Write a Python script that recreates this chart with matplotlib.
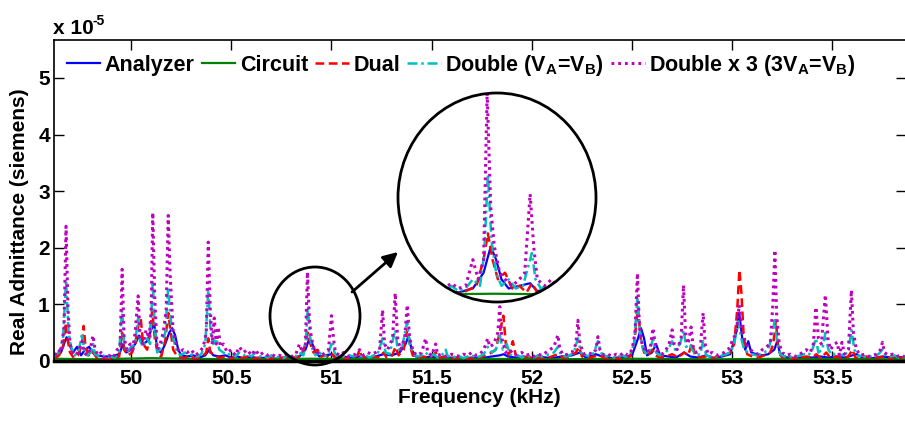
import numpy as np
import matplotlib
matplotlib.use("Agg")
import matplotlib.pyplot as plt
from matplotlib.patches import Ellipse

plt.rcParams["font.family"] = ["Liberation Sans", "DejaVu Sans"]
plt.rcParams["font.weight"] = "bold"
plt.rcParams["mathtext.fontset"] = "custom"
plt.rcParams["mathtext.rm"] = "Liberation Sans:bold"
plt.rcParams["mathtext.bf"] = "Liberation Sans:bold"
plt.rcParams["mathtext.it"] = "Liberation Sans:bold"

# (frequency kHz, real admittance x1e-5 S)
ANALYZER = [
    (49.62, 0.10), (49.65, 0.15), (49.665, 0.30), (49.678, 0.42), (49.69, 0.30), (49.71, 0.15),
    (49.73, 0.25), (49.75, 0.10), (49.77, 0.20), (49.79, 0.25), (49.81, 0.15), (49.83, 0.10),
    (49.86, 0.08), (49.90, 0.08), (49.94, 0.12), (49.96, 0.30), (49.975, 0.15), (50.00, 0.20),
    (50.02, 0.30), (50.04, 0.45), (50.06, 0.30), (50.08, 0.35), (50.10, 0.55), (50.115, 0.67),
    (50.13, 0.20), (50.15, 0.15), (50.17, 0.30), (50.19, 0.50), (50.205, 0.58), (50.22, 0.45),
    (50.235, 0.20), (50.25, 0.10), (50.28, 0.08), (50.31, 0.10), (50.34, 0.06), (50.37, 0.10),
    (50.39, 0.20), (50.41, 0.10), (50.44, 0.08), (50.47, 0.10), (50.50, 0.06), (50.53, 0.08),
    (50.56, 0.05), (50.60, 0.07), (50.64, 0.05), (50.68, 0.06), (50.72, 0.04), (50.76, 0.06),
    (50.80, 0.05), (50.84, 0.08), (50.87, 0.20), (50.89, 0.40), (50.905, 0.30), (50.92, 0.15),
    (50.94, 0.08), (50.97, 0.10), (51.00, 0.12), (51.02, 0.06), (51.06, 0.08), (51.10, 0.05),
    (51.14, 0.08), (51.18, 0.06), (51.22, 0.08), (51.26, 0.12), (51.30, 0.10), (51.34, 0.15),
    (51.37, 0.30), (51.385, 0.45), (51.40, 0.20), (51.42, 0.08), (51.46, 0.06), (51.50, 0.08),
    (51.55, 0.05), (51.60, 0.06), (51.65, 0.05), (51.70, 0.06), (51.75, 0.05), (51.80, 0.08),
    (51.84, 0.10), (51.86, 0.12), (51.88, 0.08), (51.92, 0.06), (51.96, 0.08), (52.00, 0.05),
    (52.05, 0.07), (52.10, 0.05), (52.15, 0.08), (52.20, 0.10), (52.24, 0.15), (52.27, 0.06),
    (52.32, 0.12), (52.35, 0.08), (52.40, 0.05), (52.45, 0.07), (52.50, 0.10), (52.53, 0.40),
    (52.545, 0.58), (52.56, 0.40), (52.575, 0.10), (52.60, 0.15), (52.62, 0.30), (52.64, 0.10),
    (52.68, 0.08), (52.72, 0.06), (52.76, 0.15), (52.79, 0.08), (52.83, 0.06), (52.87, 0.10),
    (52.91, 0.05), (52.95, 0.08), (52.99, 0.12), (53.02, 0.50), (53.035, 0.85), (53.05, 0.40),
    (53.065, 0.20), (53.08, 0.35), (53.095, 0.15), (53.12, 0.12), (53.15, 0.10), (53.18, 0.12),
    (53.21, 0.20), (53.225, 0.35), (53.24, 0.10), (53.28, 0.06), (53.32, 0.05), (53.36, 0.07),
    (53.40, 0.06), (53.44, 0.08), (53.48, 0.06), (53.52, 0.08), (53.56, 0.06), (53.60, 0.10),
    (53.62, 0.12), (53.65, 0.06), (53.70, 0.05), (53.75, 0.08), (53.80, 0.06), (53.86, 0.07),
]

CIRCUIT = [
    (49.62, 0.04), (49.80, 0.03), (50.10, 0.05), (50.50, 0.03), (50.90, 0.04), (51.30, 0.03),
    (51.70, 0.04), (52.10, 0.03), (52.50, 0.04), (52.90, 0.03), (53.30, 0.04), (53.86, 0.03),
]

DUAL = [
    (49.62, 0.05), (49.64, 0.10), (49.66, 0.25), (49.672, 0.67), (49.682, 0.40), (49.695, 0.15),
    (49.715, 0.05), (49.735, 0.10), (49.755, 0.30), (49.763, 0.62), (49.772, 0.25), (49.79, 0.08),
    (49.81, 0.15), (49.83, 0.05), (49.86, 0.03), (49.90, 0.04), (49.94, 0.08), (49.955, 0.50),
    (49.965, 0.20), (49.985, 0.10), (50.005, 0.15), (50.02, 0.30), (50.035, 0.60), (50.048, 0.75),
    (50.06, 0.30), (50.08, 0.20), (50.095, 0.50), (50.105, 0.90), (50.118, 0.40), (50.135, 0.10),
    (50.15, 0.08), (50.17, 0.35), (50.185, 0.85), (50.198, 0.50), (50.21, 0.20), (50.23, 0.08),
    (50.26, 0.05), (50.29, 0.08), (50.32, 0.04), (50.35, 0.06), (50.375, 0.15), (50.385, 0.40),
    (50.395, 0.15), (50.42, 0.10), (50.44, 0.05), (50.47, 0.08), (50.50, 0.04), (50.53, 0.10),
    (50.55, 0.05), (50.58, 0.08), (50.61, 0.04), (50.64, 0.06), (50.67, 0.03), (50.70, 0.05),
    (50.73, 0.04), (50.76, 0.06), (50.79, 0.04), (50.82, 0.06), (50.85, 0.10), (50.87, 0.30),
    (50.882, 0.50), (50.895, 0.30), (50.91, 0.15), (50.93, 0.20), (50.95, 0.08), (50.97, 0.10),
    (50.99, 0.05), (51.005, 0.12), (51.02, 0.05), (51.05, 0.08), (51.08, 0.04), (51.11, 0.06),
    (51.13, 0.10), (51.14, 0.20), (51.15, 0.08), (51.18, 0.05), (51.21, 0.08), (51.24, 0.06),
    (51.26, 0.15), (51.275, 0.06), (51.30, 0.08), (51.32, 0.25), (51.335, 0.10), (51.36, 0.20),
    (51.378, 0.55), (51.39, 0.30), (51.405, 0.10), (51.43, 0.05), (51.46, 0.08), (51.49, 0.05),
    (51.52, 0.15), (51.535, 0.05), (51.56, 0.08), (51.59, 0.04), (51.62, 0.06), (51.65, 0.04),
    (51.68, 0.05), (51.71, 0.04), (51.74, 0.06), (51.77, 0.10), (51.80, 0.15), (51.82, 0.20),
    (51.845, 0.60), (51.858, 0.80), (51.87, 0.30), (51.885, 0.10), (51.905, 0.35), (51.92, 0.10),
    (51.95, 0.05), (51.98, 0.08), (52.01, 0.04), (52.04, 0.06), (52.07, 0.04), (52.10, 0.08),
    (52.13, 0.12), (52.16, 0.05), (52.19, 0.08), (52.22, 0.15), (52.235, 0.25), (52.25, 0.08),
    (52.28, 0.05), (52.31, 0.08), (52.34, 0.10), (52.37, 0.04), (52.40, 0.06), (52.43, 0.04),
    (52.46, 0.06), (52.49, 0.08), (52.51, 0.30), (52.53, 0.95), (52.543, 0.40), (52.56, 0.15),
    (52.58, 0.10), (52.60, 0.20), (52.615, 0.10), (52.64, 0.06), (52.67, 0.08), (52.70, 0.12),
    (52.73, 0.06), (52.76, 0.15), (52.78, 0.10), (52.80, 0.32), (52.815, 0.10), (52.84, 0.06),
    (52.87, 0.08), (52.90, 0.05), (52.93, 0.08), (52.96, 0.10), (52.99, 0.15), (53.01, 0.30),
    (53.025, 0.90), (53.036, 1.61), (53.046, 1.20), (53.058, 0.40), (53.075, 0.12), (53.10, 0.08),
    (53.13, 0.06), (53.16, 0.10), (53.19, 0.15), (53.205, 0.30), (53.218, 0.72), (53.23, 0.20),
    (53.25, 0.06), (53.28, 0.08), (53.31, 0.04), (53.34, 0.06), (53.37, 0.08), (53.40, 0.06),
    (53.42, 0.12), (53.44, 0.05), (53.47, 0.15), (53.49, 0.05), (53.52, 0.08), (53.55, 0.04),
    (53.58, 0.08), (53.60, 0.20), (53.615, 0.06), (53.64, 0.05), (53.67, 0.08), (53.70, 0.04),
    (53.73, 0.06), (53.76, 0.08), (53.79, 0.04), (53.82, 0.10), (53.84, 0.05), (53.86, 0.08),
]

DOUBLE = [
    (49.62, 0.10), (49.64, 0.15), (49.66, 0.40), (49.675, 1.43), (49.688, 0.50), (49.70, 0.25),
    (49.72, 0.10), (49.74, 0.20), (49.755, 0.49), (49.765, 0.20), (49.78, 0.10), (49.80, 0.15),
    (49.81, 0.30), (49.82, 0.12), (49.84, 0.08), (49.86, 0.10), (49.88, 0.05), (49.90, 0.08),
    (49.92, 0.06), (49.94, 0.15), (49.955, 0.90), (49.965, 0.30), (49.98, 0.15), (50.00, 0.25),
    (50.02, 0.30), (50.035, 0.80), (50.045, 0.35), (50.06, 0.25), (50.08, 0.40), (50.095, 0.30),
    (50.108, 1.43), (50.118, 0.60), (50.13, 0.15), (50.15, 0.25), (50.17, 0.50), (50.185, 1.31),
    (50.195, 0.80), (50.21, 0.40), (50.225, 0.20), (50.245, 0.10), (50.27, 0.15), (50.29, 0.10),
    (50.31, 0.12), (50.33, 0.08), (50.35, 0.12), (50.37, 0.30), (50.385, 1.25), (50.397, 0.50),
    (50.41, 0.30), (50.425, 0.40), (50.44, 0.20), (50.46, 0.15), (50.48, 0.10), (50.50, 0.15),
    (50.52, 0.08), (50.54, 0.15), (50.56, 0.10), (50.58, 0.12), (50.60, 0.08), (50.62, 0.15),
    (50.64, 0.08), (50.66, 0.10), (50.68, 0.06), (50.70, 0.10), (50.72, 0.06), (50.74, 0.08),
    (50.76, 0.05), (50.78, 0.10), (50.80, 0.06), (50.82, 0.08), (50.84, 0.15), (50.86, 0.10),
    (50.872, 0.35), (50.882, 0.95), (50.892, 0.45), (50.905, 0.20), (50.92, 0.10), (50.94, 0.15),
    (50.96, 0.08), (50.98, 0.10), (50.995, 0.25), (51.005, 0.35), (51.015, 0.15), (51.03, 0.08),
    (51.05, 0.10), (51.07, 0.06), (51.09, 0.10), (51.11, 0.08), (51.13, 0.12), (51.15, 0.08),
    (51.17, 0.10), (51.19, 0.06), (51.21, 0.10), (51.23, 0.12), (51.255, 0.40), (51.27, 0.15),
    (51.29, 0.12), (51.318, 0.55), (51.33, 0.20), (51.35, 0.20), (51.378, 0.70), (51.39, 0.30),
    (51.41, 0.12), (51.43, 0.08), (51.45, 0.10), (51.47, 0.15), (51.49, 0.08), (51.51, 0.12),
    (51.53, 0.06), (51.55, 0.10), (51.57, 0.20), (51.58, 0.08), (51.60, 0.10), (51.62, 0.06),
    (51.64, 0.08), (51.66, 0.05), (51.68, 0.08), (51.70, 0.10), (51.72, 0.06), (51.74, 0.08),
    (51.76, 0.12), (51.78, 0.25), (51.80, 0.15), (51.82, 0.20), (51.84, 0.45), (51.855, 0.20),
    (51.875, 0.30), (51.89, 0.12), (51.91, 0.08), (51.93, 0.10), (51.95, 0.06), (51.97, 0.10),
    (51.99, 0.08), (52.01, 0.06), (52.03, 0.10), (52.05, 0.08), (52.07, 0.10), (52.09, 0.12),
    (52.11, 0.15), (52.13, 0.25), (52.145, 0.10), (52.17, 0.08), (52.19, 0.10), (52.21, 0.15),
    (52.23, 0.40), (52.245, 0.15), (52.27, 0.10), (52.29, 0.08), (52.31, 0.15), (52.33, 0.35),
    (52.345, 0.15), (52.37, 0.08), (52.39, 0.10), (52.41, 0.06), (52.43, 0.08), (52.45, 0.10),
    (52.47, 0.08), (52.49, 0.10), (52.51, 0.30), (52.527, 1.13), (52.54, 0.50), (52.555, 0.20),
    (52.575, 0.12), (52.59, 0.20), (52.605, 0.40), (52.62, 0.15), (52.64, 0.10), (52.66, 0.12),
    (52.68, 0.20), (52.70, 0.35), (52.715, 0.20), (52.74, 0.30), (52.757, 0.55), (52.77, 0.25),
    (52.79, 0.30), (52.80, 0.20), (52.82, 0.10), (52.84, 0.12), (52.855, 0.35), (52.87, 0.10),
    (52.89, 0.08), (52.91, 0.10), (52.93, 0.06), (52.95, 0.10), (52.97, 0.12), (52.99, 0.15),
    (53.01, 0.30), (53.03, 0.70), (53.045, 0.40), (53.06, 0.20), (53.08, 0.15), (53.10, 0.12),
    (53.12, 0.10), (53.14, 0.12), (53.16, 0.15), (53.18, 0.20), (53.20, 0.45), (53.212, 0.72),
    (53.225, 0.30), (53.24, 0.12), (53.26, 0.08), (53.28, 0.10), (53.30, 0.06), (53.32, 0.08),
    (53.34, 0.10), (53.36, 0.12), (53.38, 0.10), (53.40, 0.20), (53.418, 0.40), (53.43, 0.15),
    (53.45, 0.20), (53.465, 0.50), (53.48, 0.20), (53.50, 0.10), (53.52, 0.15), (53.54, 0.10),
    (53.56, 0.12), (53.58, 0.15), (53.595, 0.55), (53.61, 0.20), (53.63, 0.08), (53.65, 0.10),
    (53.67, 0.06), (53.69, 0.08), (53.71, 0.10), (53.73, 0.12), (53.75, 0.20), (53.765, 0.10),
    (53.79, 0.08), (53.81, 0.10), (53.83, 0.06), (53.86, 0.08),
]

DOUBLE_X3 = [
    (49.62, 0.10), (49.635, 0.20), (49.65, 0.15), (49.665, 0.60), (49.675, 2.38), (49.685, 0.90),
    (49.695, 0.30), (49.71, 0.15), (49.725, 0.10), (49.74, 0.20), (49.755, 0.35), (49.765, 0.15),
    (49.78, 0.10), (49.795, 0.20), (49.81, 0.45), (49.82, 0.20), (49.835, 0.10), (49.85, 0.15),
    (49.87, 0.05), (49.89, 0.10), (49.91, 0.05), (49.93, 0.20), (49.945, 0.25), (49.955, 1.62),
    (49.965, 0.40), (49.98, 0.20), (49.995, 0.30), (50.005, 0.15), (50.02, 0.50), (50.035, 1.15),
    (50.045, 0.40), (50.06, 0.30), (50.075, 0.55), (50.09, 0.40), (50.10, 0.90), (50.108, 2.62),
    (50.118, 1.10), (50.13, 0.20), (50.145, 0.30), (50.16, 0.50), (50.175, 0.90), (50.185, 2.57),
    (50.195, 1.50), (50.21, 0.50), (50.225, 0.30), (50.24, 0.15), (50.26, 0.20), (50.28, 0.15),
    (50.30, 0.20), (50.32, 0.10), (50.34, 0.15), (50.36, 0.25), (50.375, 0.50), (50.385, 2.10),
    (50.395, 0.90), (50.405, 0.30), (50.415, 0.76), (50.425, 0.30), (50.435, 0.60), (50.445, 0.25),
    (50.46, 0.30), (50.48, 0.15), (50.50, 0.20), (50.52, 0.10), (50.54, 0.25), (50.56, 0.15),
    (50.58, 0.20), (50.60, 0.10), (50.62, 0.20), (50.64, 0.10), (50.66, 0.15), (50.68, 0.10),
    (50.70, 0.12), (50.72, 0.08), (50.74, 0.10), (50.76, 0.08), (50.78, 0.12), (50.80, 0.08),
    (50.82, 0.10), (50.84, 0.30), (50.855, 0.15), (50.87, 0.30), (50.88, 1.57), (50.89, 0.70),
    (50.90, 0.40), (50.915, 0.20), (50.93, 0.15), (50.95, 0.10), (50.97, 0.15), (50.985, 0.20),
    (51.00, 0.80), (51.01, 0.40), (51.02, 0.15), (51.04, 0.10), (51.06, 0.15), (51.08, 0.08),
    (51.10, 0.10), (51.12, 0.12), (51.14, 0.20), (51.16, 0.10), (51.18, 0.15), (51.20, 0.12),
    (51.22, 0.15), (51.24, 0.20), (51.255, 0.90), (51.265, 0.30), (51.28, 0.20), (51.305, 0.40),
    (51.318, 1.20), (51.33, 0.40), (51.345, 0.20), (51.365, 0.40), (51.378, 0.99), (51.39, 0.40),
    (51.41, 0.15), (51.43, 0.10), (51.45, 0.15), (51.47, 0.40), (51.48, 0.15), (51.50, 0.10),
    (51.52, 0.30), (51.53, 0.10), (51.55, 0.12), (51.57, 0.08), (51.60, 0.12), (51.62, 0.10),
    (51.64, 0.08), (51.66, 0.12), (51.68, 0.10), (51.70, 0.15), (51.72, 0.10), (51.74, 0.12),
    (51.76, 0.20), (51.78, 0.40), (51.79, 0.25), (51.81, 0.30), (51.83, 0.50), (51.84, 0.96),
    (51.85, 0.40), (51.87, 0.15), (51.89, 0.20), (51.91, 0.10), (51.93, 0.12), (51.95, 0.15),
    (51.97, 0.10), (51.99, 0.12), (52.01, 0.08), (52.03, 0.12), (52.05, 0.10), (52.07, 0.15),
    (52.09, 0.20), (52.11, 0.25), (52.13, 0.46), (52.14, 0.20), (52.16, 0.10), (52.18, 0.12),
    (52.20, 0.15), (52.22, 0.30), (52.23, 0.72), (52.24, 0.30), (52.26, 0.12), (52.28, 0.15),
    (52.30, 0.12), (52.32, 0.20), (52.33, 0.43), (52.34, 0.20), (52.36, 0.10), (52.38, 0.12),
    (52.40, 0.08), (52.42, 0.12), (52.44, 0.10), (52.46, 0.15), (52.48, 0.10), (52.50, 0.20),
    (52.515, 0.50), (52.527, 1.55), (52.537, 0.60), (52.55, 0.30), (52.57, 0.15), (52.59, 0.20),
    (52.605, 0.58), (52.615, 0.30), (52.63, 0.15), (52.65, 0.12), (52.67, 0.20), (52.685, 0.30),
    (52.70, 0.55), (52.71, 0.30), (52.725, 0.20), (52.745, 0.40), (52.757, 1.34), (52.767, 0.50),
    (52.78, 0.30), (52.795, 0.60), (52.805, 0.25), (52.82, 0.15), (52.84, 0.20), (52.855, 0.85),
    (52.865, 0.30), (52.88, 0.12), (52.90, 0.15), (52.92, 0.10), (52.94, 0.12), (52.96, 0.15),
    (52.98, 0.20), (53.00, 0.35), (53.02, 0.50), (53.035, 0.99), (53.05, 0.50), (53.07, 0.30),
    (53.09, 0.20), (53.11, 0.15), (53.13, 0.12), (53.15, 0.20), (53.17, 0.25), (53.19, 0.30),
    (53.203, 1.00), (53.213, 1.96), (53.222, 0.80), (53.235, 0.30), (53.25, 0.15), (53.27, 0.10),
    (53.29, 0.12), (53.31, 0.08), (53.33, 0.10), (53.35, 0.15), (53.37, 0.20), (53.39, 0.15),
    (53.405, 0.30), (53.418, 0.95), (53.43, 0.40), (53.445, 0.30), (53.465, 1.17), (53.478, 0.40),
    (53.49, 0.20), (53.51, 0.30), (53.525, 0.33), (53.535, 0.10), (53.548, 0.33), (53.56, 0.12),
    (53.58, 0.20), (53.595, 1.25), (53.605, 0.50), (53.62, 0.20), (53.64, 0.10), (53.66, 0.12),
    (53.68, 0.08), (53.70, 0.10), (53.72, 0.12), (53.74, 0.20), (53.75, 0.33), (53.76, 0.15),
    (53.78, 0.10), (53.80, 0.12), (53.82, 0.08), (53.84, 0.10), (53.86, 0.08),
]

LABELS = ["Analyzer", "Circuit", "Dual",
          r"Double (V$_{\mathbf{A}}$=V$_{\mathbf{B}}$)",
          r"Double x 3 (3V$_{\mathbf{A}}$=V$_{\mathbf{B}}$)"]
XTICKS = [50, 50.5, 51, 51.5, 52, 52.5, 53, 53.5]
XTICKLABELS = ["50", "50.5", "51", "51.5", "52", "52.5", "53", "53.5"]
YTICKS = [0, 1, 2, 3, 4, 5]

SERIES = [ANALYZER, CIRCUIT, DUAL, DOUBLE, DOUBLE_X3]
STYLES = [
    dict(color="#0000ff", lw=1.6, ls="-"),
    dict(color="#008000", lw=1.6, ls="-"),
    dict(color="#ff0000", lw=1.8, ls=(0, (3.5, 1.8))),
    dict(color="#00bfbf", lw=1.8, ls=(0, (4, 1.5, 1, 1.5))),
    dict(color="#bf00bf", lw=2.2, ls=(0, (0.9, 1.3))),
]

W, H = 905, 421
fig = plt.figure(figsize=(W / 100, H / 100), dpi=100)
ax = fig.add_axes([54 / W, 1 - 361 / H, 851.5 / W, 321 / H])


def draw(a, **kw):
    out = []
    for s, st, lab in zip(SERIES, STYLES, LABELS):
        f, v = zip(*s)
        ln, = a.plot(f, v, label=lab, **st, **kw)
        out.append(ln)
    return out


draw(ax)
ax.set_xlim(49.615, 53.865)
ax.set_ylim(0, 5.67)
ax.set_xticks(XTICKS)
ax.set_xticklabels(XTICKLABELS)
ax.set_yticks(YTICKS)
ax.tick_params(direction="in", length=7, width=1, top=True, right=True,
               labelsize=15, pad=3)
ax.tick_params(axis="x", pad=6)
for sp in ax.spines.values():
    sp.set_linewidth(1.2)
ax.spines["bottom"].set_linewidth(2.5)

ax.set_xlabel("Frequency (kHz)", fontsize=15, fontweight="bold", labelpad=0)
fig.text(20 / W, 1 - 222 / H, "Real Admittance (siemens)", rotation=90,
         fontsize=15, fontweight="bold", ha="center", va="center")
fig.text(53 / W, 1 - 34 / H, "x 10", fontsize=15, fontweight="bold",
         va="baseline", ha="left")
fig.text(92 / W, 1 - 25 / H, "-5", fontsize=10, fontweight="bold",
         va="baseline", ha="left")

ax.legend(loc="upper left", ncol=5, frameon=False, fontsize=15.5,
          handlelength=1.55, handletextpad=0.2, columnspacing=0.35,
          borderaxespad=0.2, borderpad=0.4,
          prop=dict(weight="bold", size=15.5))

# magnified view of the 50.9 kHz region
ins = fig.add_axes([398 / W, 1 - 302 / H, 198 / W, 209 / H])
ins.set_xlim(50.631, 51.184)
ins.set_ylim(-0.023, 1.57)
ins.axis("off")
clip = Ellipse((0.5, 0.5), 1, 1, transform=ins.transAxes, fill=False)
ins.add_patch(clip)
clip.set_visible(False)
for ln in draw(ins):
    ln.set_clip_path(clip)
fig.add_artist(Ellipse((497 / W, 1 - 197.5 / H), 198 / W, 209 / H,
                       transform=fig.transFigure, fill=False, lw=2, ec="black"))

# small circle on the main axes and pointer arrow
fig.add_artist(Ellipse((315 / W, 1 - 316 / H), 90 / W, 98 / H,
                       transform=fig.transFigure, fill=False, lw=2, ec="black"))
ax.annotate("", xy=(398 / W, 1 - 252 / H), xycoords="figure fraction",
            xytext=(352 / W, 1 - 292 / H), textcoords="figure fraction",
            arrowprops=dict(arrowstyle="-|>", lw=2, color="black",
                            mutation_scale=22, shrinkA=0, shrinkB=0))

fig.savefig("out.png", dpi=100)
